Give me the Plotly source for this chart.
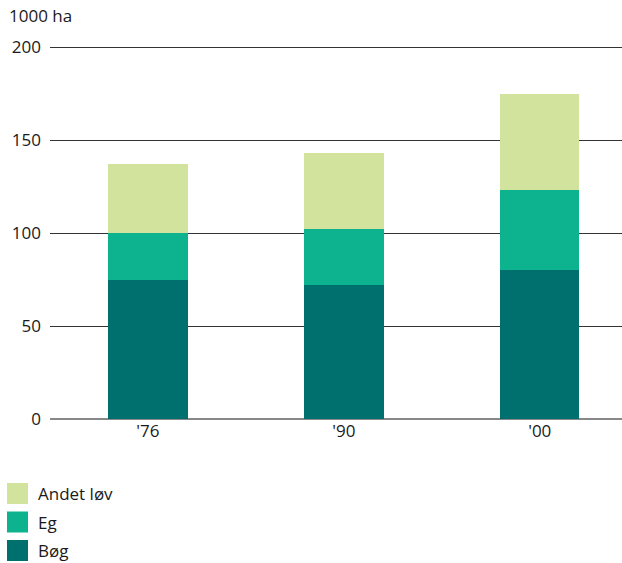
import plotly.graph_objects as go

# Deciduous forest area, 1000 ha
years = ["'76", "'90", "'00"]
series_names = ["Bøg", "Eg", "Andet løv"]
boeg = [75, 72, 80]
eg = [25, 30, 43]
andet_loev = [37, 41, 52]
colors = ["#00706e", "#0db38e", "#d1e39c"]
y_ticks = [0, 50, 100, 150, 200]

FONT = "Open Sans"
TXT = "#1a1a1a"

# plot area geometry in pixels
W, H = 622, 563
L, R, T, B = 50, 0, 46, 144
PW, PH = W - L - R, H - T - B


def px(x):
    return (x - L) / PW


def py(y):
    return (H - B - y) / PH


fig = go.Figure()
for name, vals, col in zip(series_names, [boeg, eg, andet_loev], colors):
    fig.add_trace(go.Bar(x=years, y=vals, name=name, marker_color=col,
                         marker_line_width=0, width=0.405, showlegend=False))

# legend: colour squares with labels below the plot, top entry first
legend_rows = list(reversed(list(zip(series_names, colors))))
top_px = 483
step = 28.5
box = 21
for i, (name, col) in enumerate(legend_rows):
    y0 = top_px + i * step
    fig.add_shape(type="rect", xref="paper", yref="paper",
                  x0=px(7), x1=px(7 + box),
                  y0=py(y0 + box), y1=py(y0),
                  fillcolor=col, line_width=0)
    fig.add_annotation(text=name, xref="paper", yref="paper",
                       x=px(36), y=py(y0 + box / 2),
                       xanchor="left", yanchor="middle", showarrow=False,
                       font=dict(family=FONT, size=17, color=TXT))

fig.add_annotation(text="1000 ha", xref="paper", yref="paper",
                   x=px(7), y=py(16), xanchor="left",
                   yanchor="middle", showarrow=False,
                   font=dict(family=FONT, size=17, color=TXT))

fig.update_layout(
    barmode="stack",
    width=W, height=H,
    margin=dict(l=L, r=R, t=T, b=B),
    plot_bgcolor="white", paper_bgcolor="white",
    font=dict(family=FONT, size=17, color=TXT),
    xaxis=dict(range=[-0.5, 2.42], showgrid=False, ticks="",
               showline=False, tickfont=dict(size=17)),
    yaxis=dict(range=[0, 200.6], tickvals=y_ticks, showgrid=True,
               gridcolor="#333", gridwidth=1, zeroline=True,
               zerolinecolor="#888", zerolinewidth=1.5,
               ticklabelstandoff=8, tickfont=dict(size=17)),
    bargap=0,
)
fig.write_html("out.html")
